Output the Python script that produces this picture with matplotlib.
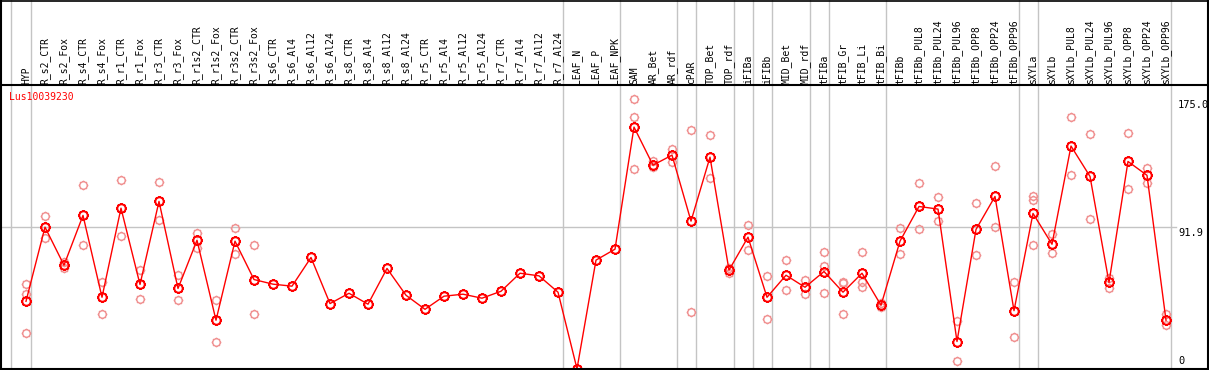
import matplotlib
matplotlib.use('Agg')
import matplotlib.pyplot as plt
from matplotlib.path import Path
from matplotlib.lines import Line2D
import matplotlib.transforms as mtransforms
import numpy as np

# ---------------- data ----------------
gene_id = "Lus10039230"

categories = [
    "HYP",
    "R_s2_CTR", "R_s2_Fox", "R_s4_CTR", "R_s4_Fox", "R_r1_CTR", "R_r1_Fox",
    "R_r3_CTR", "R_r3_Fox", "R_r1s2_CTR", "R_r1s2_Fox", "R_r3s2_CTR", "R_r3s2_Fox",
    "R_s6_CTR", "R_s6_Al4", "R_s6_Al12", "R_s6_Al24",
    "R_s8_CTR", "R_s8_Al4", "R_s8_Al12", "R_s8_Al24",
    "R_r5_CTR", "R_r5_Al4", "R_r5_Al12", "R_r5_Al24",
    "R_r7_CTR", "R_r7_Al4", "R_r7_Al12", "R_r7_Al24",
    "LEAF_N", "LEAF_P", "LEAF_NPK",
    "SAM", "AR_Bet", "AR_rdf",
    "cPAR",
    "TOP_Bet", "TOP_rdf",
    "iFIBa",
    "iFIBb",
    "MID_Bet", "MID_rdf",
    "tFIBa",
    "tFIB_Gr", "tFIB_Li", "tFIB_Bi",
    "tFIBb", "tFIBb_PUL8", "tFIBb_PUL24", "tFIBb_PUL96",
    "tFIBb_OPP8", "tFIBb_OPP24", "tFIBb_OPP96",
    "sXYLa",
    "sXYLb", "sXYLb_PUL8", "sXYLb_PUL24", "sXYLb_PUL96",
    "sXYLb_OPP8", "sXYLb_OPP24", "sXYLb_OPP96",
]

means = [
    43.8,
    91.9, 67.2, 99.5, 46.4, 104.2, 54.7,
    108.6, 52.1, 83.4, 31.5, 82.8, 57.9,
    54.9, 53.6, 72.2, 42.3,
    49.0, 41.9, 65.1, 47.7,
    38.6, 47.1, 48.4, 45.8,
    50.3, 62.0, 60.3, 49.7,
    0.0, 70.5, 77.6,
    156.8, 132.1, 138.6,
    95.8,
    137.3, 64.0,
    85.4,
    46.4,
    60.7, 52.9,
    63.1,
    49.7, 62.0, 41.2,
    82.8, 105.3, 103.6, 17.7,
    90.4, 111.8, 37.7,
    100.8,
    80.8, 144.5, 124.8, 56.0,
    134.5, 125.5, 31.5,
]

replicates = [
    [55.3, 48.8, 22.9],
    [99.0, 84.7], [69.4, 65.5], [119.0, 80.0], [56.2, 35.8], [122.2, 86.0], [64.0, 45.1],
    [120.9, 96.4], [60.7, 44.5], [88.4, 78.1], [44.9, 17.7], [91.2, 74.2], [80.2, 35.8],
    [], [], [], [],
    [], [], [], [],
    [], [], [], [],
    [], [], [], [],
    [], [], [],
    [175.0, 163.3, 129.4], [134.7, 131.0], [142.3, 133.9],
    [154.7, 36.7],
    [151.6, 123.5], [62.2, 65.6],
    [93.2, 76.8],
    [60.1, 32.1],
    [70.9, 51.0], [57.5, 48.2],
    [75.5, 66.8, 49.0],
    [56.4, 55.7, 35.4], [75.8, 56.0, 52.9], [40.1, 42.5],
    [91.4, 74.4], [120.3, 91.0], [111.4, 96.2], [30.8, 4.9],
    [107.3, 73.7], [131.3, 91.9], [56.0, 20.5],
    [112.0, 109.4, 80.0],
    [87.3, 75.0], [163.1, 125.5], [152.1, 97.1], [58.6, 52.7],
    [152.7, 116.6], [130.0, 120.5], [35.6, 28.1],
]

group_sizes = [1, 28, 3, 3, 1, 2, 1, 1, 2, 1, 3, 7, 1, 7]

y_ref_values = [175.0, 91.9, 0]
y_ref_labels = ["175.0", "91.9", "0"]

# ---------------- layout ----------------
W, H = 1209, 370
fig = plt.figure(figsize=(W / 100, H / 100), dpi=100)
fig.patch.set_facecolor('white')

plot_top_px = 85.0
plot_bot_px = 368.8
ax = fig.add_axes([0, (H - plot_bot_px) / H, 1, (plot_bot_px - plot_top_px) / H])
ax.set_axis_off()

first_px = 26.0
step_px = 19.0
n = len(categories)
xs = np.arange(n)
ax.set_xlim(-first_px / step_px, (W - first_px) / step_px)
ymax = 184.1
ax.set_ylim(0, ymax)

mono = 'DejaVu Sans Mono'
fs = 7.0

trans = mtransforms.blended_transform_factory(ax.transData, fig.transFigure)


def gear_marker():
    circ = Path.unit_circle()
    verts = list(circ.vertices)
    codes = list(circ.codes)
    for ang in np.arange(0, 360, 45):
        a = np.deg2rad(ang)
        verts += [(np.cos(a) * 1.0, np.sin(a) * 1.0), (np.cos(a) * 1.3, np.sin(a) * 1.3)]
        codes += [Path.MOVETO, Path.LINETO]
    return Path(verts, codes)


gear = gear_marker()

# group separators (gray vertical lines)
sep_positions = [-0.8]
acc = 0
for g in group_sizes:
    acc += g
    sep_positions.append(acc - 1 + 0.24)
for sx in sep_positions:
    ax.plot([sx, sx], [0, 1], transform=trans, color='#c4c4c4', lw=1.0,
            clip_on=False, zorder=1)

# reference line at 91.9
ax.axhline(y_ref_values[1], xmin=0, xmax=1176 / W, color='#c4c4c4', lw=1.0, zorder=1)

# replicates
for i, reps in enumerate(replicates):
    if reps:
        ax.plot([xs[i]] * len(reps), reps, ls='none', marker=gear, ms=7.0,
                mec='#f09090', mfc='none', mew=1.0, zorder=2, clip_on=False)

# mean line + markers
ax.plot(xs, means, color='red', lw=1.0, zorder=3, clip_on=False)
ax.plot(xs, means, ls='none', marker=gear, ms=7.8, mec='red', mfc='none',
        mew=1.4, zorder=4, clip_on=False)

# category labels
for i, c in enumerate(categories):
    ax.text(xs[i], (H - 83.5) / H, c, rotation=90, ha='center', va='bottom',
            fontsize=fs, family=mono, transform=trans, clip_on=False)

# gene id
fig.text(9 / W, 1 - 97 / H, gene_id, color='red', ha='left', va='center',
         fontsize=fs, family=mono)

# right-side value labels
px_per_unit = (plot_bot_px - plot_top_px) / ymax
for v, lab in zip(y_ref_values, y_ref_labels):
    ypx = plot_bot_px - v * px_per_unit
    if v == 0:
        fig.text(1178 / W, 1 - (ypx - 3) / H, lab, ha='left', va='bottom',
                 fontsize=fs + 0.5, family=mono)
    else:
        fig.text(1178 / W, 1 - (ypx + 1) / H, lab, ha='left', va='top',
                 fontsize=fs + 0.5, family=mono)

# black frame lines
def hline(ypx, lw=1.0):
    fig.add_artist(Line2D([0, 1], [1 - ypx / H, 1 - ypx / H], transform=fig.transFigure,
                          color='black', lw=lw))


def vline(xpx, lw=1.0):
    fig.add_artist(Line2D([xpx / W, xpx / W], [0, 1], transform=fig.transFigure,
                          color='black', lw=lw))


hline(0.5, 1.2)
hline(85.0, 1.5)
hline(369.0, 1.5)
vline(0.8, 1.5)
vline(1208.3, 1.5)

fig.savefig('out.png', dpi=100, facecolor='white')
